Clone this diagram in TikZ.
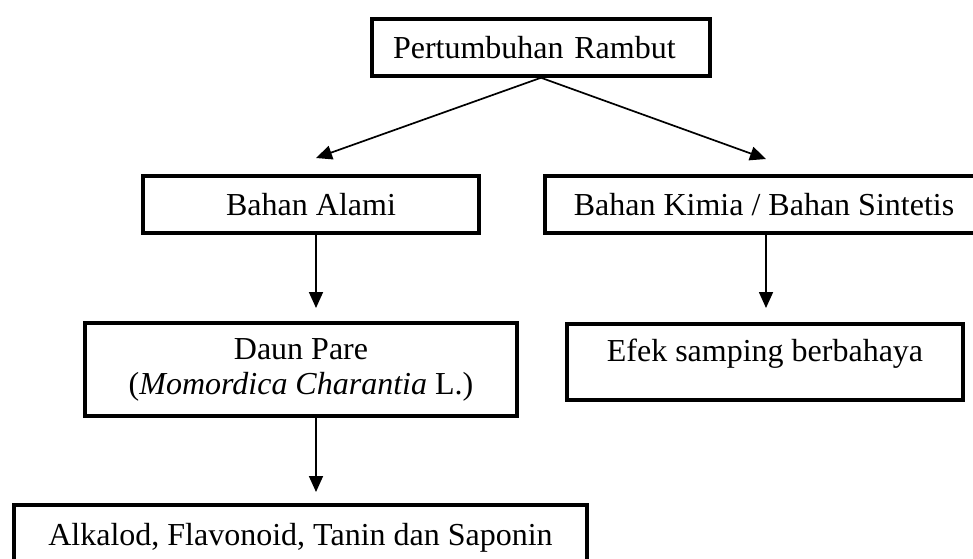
\documentclass[tikz,border=0pt]{standalone}
\usepackage{fontspec}
\setmainfont{Liberation Serif}
\usetikzlibrary{arrows.meta}
\begin{document}
\begin{tikzpicture}[x=1pt,y=-1pt,
  box/.style={draw, line width=3.5pt, inner sep=0pt, font=\fontsize{32}{35}\selectfont},
  oneline/.style={text height=22pt, text depth=0pt},
  arr/.style={line width=1.7pt, -{Triangle[length=16pt,width=14pt]}}]
\useasboundingbox (0,0) rectangle (973,558);
\fill[white] (0,0) rectangle (973,558);
\node[box, oneline, minimum width=338pt, minimum height=57pt, text width=296pt, align=left] (top) at (541,47.5) {Pertumbuhan Rambut};
\node[box, oneline, minimum width=336pt, minimum height=57pt] (alami) at (311,204.5) {Bahan Alami};
\node[box, oneline, minimum width=438pt, minimum height=57pt] (kimia) at (764,204.5) {Bahan Kimia / Bahan Sintetis};
\node[box, minimum width=432pt, minimum height=93pt, align=center] (daun) at (301,369.5) {Daun Pare\\(\textit{Momordica Charantia} L.)};
\node[box, text height=37pt, text depth=39pt, minimum width=396pt, minimum height=76pt] (efek) at (765,362) {Efek samping berbahaya};
\node[box, oneline, minimum width=573pt, minimum height=58pt] (alk) at (300.5,534) {Alkalod, Flavonoid, Tanin dan Saponin};
\coordinate (tA) at (316,158);
\coordinate (tB) at (766,159);
\coordinate (tC) at (316,308);
\coordinate (tD) at (766,308);
\coordinate (tE) at (316,492);
\draw[arr] (top.south) -- (tA);
\draw[arr] (top.south) -- (tB);
\draw[arr] (alami.south -| tC) -- (tC);
\draw[arr] (kimia.south -| tD) -- (tD);
\draw[arr] (daun.south -| tE) -- (tE);
\end{tikzpicture}
\end{document}
